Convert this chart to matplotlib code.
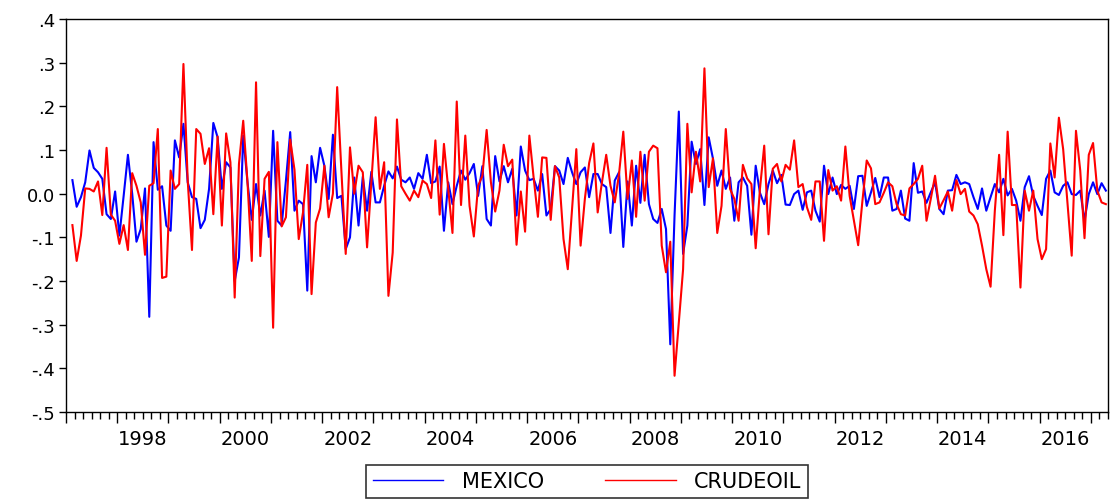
import numpy as np
import matplotlib
matplotlib.use("Agg")
import matplotlib.pyplot as plt
from matplotlib.transforms import blended_transform_factory

# monthly returns, first obs 1997M2
mexico = [
    0.031, -0.030, -0.008, 0.026, 0.099, 0.059, 0.049, 0.034, -0.047, -0.058, 0.005, -0.096,
    -0.005, 0.089, 0.000, -0.110, -0.081, 0.012, -0.282, 0.118, 0.009, 0.017, -0.073, -0.085,
    0.122, 0.083, 0.160, 0.026, -0.008, -0.012, -0.079, -0.060, 0.011, 0.162, 0.129, 0.011,
    0.072, 0.060, -0.200, -0.146, 0.133, 0.026, -0.060, 0.022, -0.050, 0.007, -0.099, 0.144,
    -0.062, -0.073, 0.030, 0.141, -0.039, -0.016, -0.024, -0.222, 0.086, 0.026, 0.105, 0.064,
    -0.012, 0.135, -0.010, -0.005, -0.127, -0.100, 0.037, -0.073, 0.039, -0.039, 0.050, -0.020,
    -0.020, 0.018, 0.051, 0.035, 0.062, 0.032, 0.026, 0.037, 0.011, 0.047, 0.034, 0.089,
    0.024, 0.028, 0.062, -0.085, 0.026, -0.024, 0.018, 0.053, 0.032, 0.047, 0.068, -0.005,
    0.063, -0.058, -0.073, 0.086, 0.028, 0.063, 0.026, 0.057, -0.050, 0.108, 0.053, 0.031,
    0.034, 0.007, 0.045, -0.050, -0.035, 0.063, 0.053, 0.022, 0.082, 0.049, 0.022, 0.049,
    0.060, -0.008, 0.045, 0.045, 0.022, 0.015, -0.090, 0.030, 0.049, -0.122, 0.028, -0.073,
    0.064, -0.021, 0.089, -0.024, -0.058, -0.067, -0.035, -0.081, -0.345, -0.050, 0.188, -0.138,
    -0.073, 0.119, 0.068, 0.102, -0.026, 0.129, 0.080, 0.018, 0.053, 0.011, 0.037, -0.062,
    0.026, 0.037, 0.018, -0.094, 0.064, 0.002, -0.024, 0.022, 0.053, 0.024, 0.043, -0.025,
    -0.026, -0.001, 0.007, -0.037, 0.003, 0.007, -0.039, -0.064, 0.064, -0.001, 0.037, -0.001,
    0.020, 0.011, 0.018, -0.035, 0.040, 0.041, -0.028, 0.003, 0.036, -0.008, 0.037, 0.037,
    -0.039, -0.035, 0.007, -0.057, -0.062, 0.070, 0.002, 0.005, -0.021, 0.003, 0.026, -0.035,
    -0.047, 0.007, 0.008, 0.043, 0.022, 0.026, 0.022, -0.008, -0.035, 0.012, -0.039, -0.008,
    0.022, 0.003, 0.034, -0.004, 0.011, -0.016, -0.062, 0.015, 0.040, -0.005, -0.028, -0.049,
    0.034, 0.053, 0.003, -0.003, 0.018, 0.026, -0.001, -0.003, 0.007, -0.062, -0.001, 0.026,
    -0.001, 0.024, 0.007,
]

crudeoil = [
    -0.072, -0.154, -0.096, 0.012, 0.011, 0.005, 0.028, -0.049, 0.105, -0.048, -0.062, -0.115,
    -0.072, -0.129, 0.047, 0.018, -0.020, -0.140, 0.018, 0.024, 0.148, -0.193, -0.190, 0.053,
    0.011, 0.022, 0.297, 0.030, -0.129, 0.148, 0.137, 0.068, 0.104, -0.047, 0.131, -0.073,
    0.138, 0.072, -0.238, 0.068, 0.167, 0.026, -0.154, 0.255, -0.143, 0.034, 0.050, -0.307,
    0.118, -0.075, -0.054, 0.124, 0.055, -0.104, -0.043, 0.066, -0.230, -0.066, -0.034, 0.064,
    -0.054, 0.000, 0.244, 0.050, -0.138, 0.106, 0.000, 0.064, 0.049, -0.123, 0.026, 0.175,
    0.011, 0.072, -0.234, -0.135, 0.170, 0.017, 0.000, -0.016, 0.007, -0.008, 0.030, 0.022,
    -0.010, 0.122, -0.048, 0.114, 0.011, -0.090, 0.211, -0.026, 0.133, -0.028, -0.098, 0.018,
    0.041, 0.146, 0.026, -0.041, 0.007, 0.112, 0.063, 0.078, -0.117, 0.005, -0.087, 0.133,
    0.037, -0.053, 0.083, 0.082, -0.060, 0.063, 0.037, -0.104, -0.173, -0.035, 0.102, -0.119,
    -0.012, 0.070, 0.115, -0.043, 0.026, 0.089, 0.018, -0.020, 0.045, 0.142, -0.012, 0.076,
    -0.053, 0.096, -0.016, 0.096, 0.110, 0.104, -0.119, -0.180, -0.110, -0.417, -0.295, -0.173,
    0.160, 0.003, 0.096, 0.028, 0.287, 0.015, 0.081, -0.090, -0.028, 0.148, 0.011, -0.012,
    -0.062, 0.066, 0.035, 0.022, -0.125, 0.011, 0.110, -0.093, 0.057, 0.068, 0.028, 0.066,
    0.055, 0.122, 0.015, 0.022, -0.031, -0.060, 0.028, 0.028, -0.108, 0.054, 0.007, 0.017,
    -0.016, 0.108, -0.005, -0.062, -0.118, -0.016, 0.076, 0.058, -0.024, -0.020, 0.002, 0.026,
    0.017, -0.024, -0.047, -0.050, 0.012, 0.022, 0.034, 0.064, -0.062, -0.012, 0.041, -0.034,
    -0.015, 0.005, -0.039, 0.031, -0.001, 0.011, -0.041, -0.050, -0.070, -0.119, -0.173, -0.213,
    -0.039, 0.089, -0.095, 0.142, -0.026, -0.026, -0.215, 0.007, -0.039, 0.007, -0.104, -0.150,
    -0.127, 0.115, 0.037, 0.174, 0.102, -0.020, -0.142, 0.144, 0.053, -0.102, 0.089, 0.116,
    0.007, -0.020, -0.024,
]

start = 1997 + 1.5 / 12  # mid of Feb 1997
t_mex = start + np.arange(len(mexico)) / 12
t_oil = start + np.arange(len(crudeoil)) / 12

ytick_vals = [0.4, 0.3, 0.2, 0.1, 0.0, -0.1, -0.2, -0.3, -0.4, -0.5]
ytick_labels = [".4", ".3", ".2", ".1", "0.0", "-.1", "-.2", "-.3", "-.4", "-.5"]
year_labels = list(range(1998, 2017, 2))

plt.rcParams["font.family"] = "DejaVu Sans"

fig = plt.figure(figsize=(11.1, 5.02), dpi=100)
ax = fig.add_axes([66 / 1110, 1 - 413 / 502, (1108 - 66) / 1110, (413 - 20) / 502])

ax.plot(t_mex, mexico, color="#0000ff", lw=1.5, label="MEXICO")
ax.plot(t_oil, crudeoil, color="#ff0000", lw=1.5, label="CRUDEOIL")

ax.set_xlim(1997.0, 2017.33)
ax.set_ylim(-0.5, 0.4)

ax.set_yticks(ytick_vals)
ax.set_yticklabels(ytick_labels, fontsize=13)
ax.tick_params(axis="y", direction="out", length=5, width=1, pad=3)

ax.set_xticks(np.arange(1997, 2018))
ax.set_xticklabels([])
ax.set_xticks(np.arange(1997, 2017.34, 2 / 12), minor=True)
ax.tick_params(axis="x", which="major", direction="out", length=8, width=1)
ax.tick_params(axis="x", which="minor", direction="out", length=5, width=1)

trans = blended_transform_factory(ax.transData, ax.transAxes)
for yr in year_labels:
    ax.text(yr + 0.5, -0.042, str(yr), transform=trans, ha="center", va="top", fontsize=14)

for s in ax.spines.values():
    s.set_color("black")
    s.set_linewidth(1)

leg = fig.legend(loc="center", bbox_to_anchor=(0.529, 0.039), ncol=2, fontsize=15,
                 frameon=True, fancybox=False, edgecolor="black", handlelength=3.4,
                 handletextpad=0.9, columnspacing=2.9, borderpad=0.3, borderaxespad=0)
leg.get_frame().set_linewidth(1.2)
for line in leg.get_lines():
    line.set_linewidth(1)

fig.savefig("out.png", dpi=100)
